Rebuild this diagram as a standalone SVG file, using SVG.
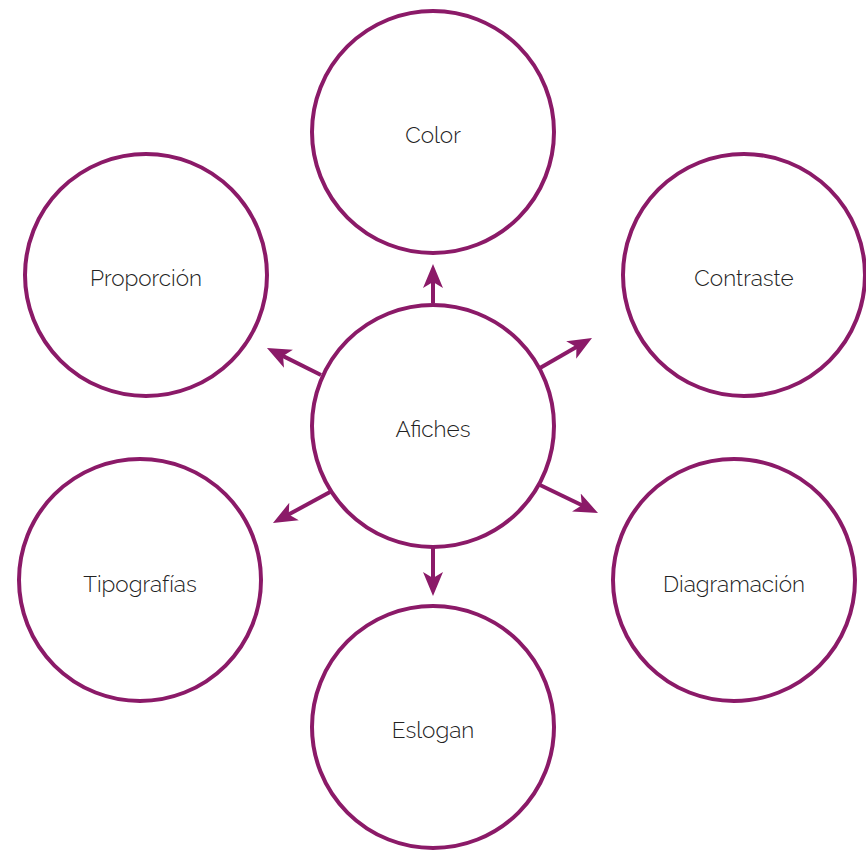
<svg xmlns="http://www.w3.org/2000/svg" width="866" height="850" viewBox="0 0 866 850">
  <style>
    .node circle { fill: #ffffff; stroke: #8b1a68; stroke-width: 4; }
    .node text { font-family: "Raleway", "Lato", "Open Sans", sans-serif; font-weight: 300; font-size: 22.5px; fill: #222222; text-anchor: middle; dominant-baseline: central; }
    .edges line { stroke: #8b1a68; stroke-width: 4; fill: none; }
  </style>
  <defs>
    <marker id="arrow" viewBox="-24 -11 26 22" refX="-12" refY="0" markerWidth="26" markerHeight="22" markerUnits="userSpaceOnUse" orient="auto">
      <path d="M0,0 L-24,-10 L-18,0 L-24,10 Z" fill="#8b1a68"/>
    </marker>
  </defs>
  <rect width="866" height="850" fill="#ffffff"/>

  <!-- spokes from the central topic; each arrow tip sits 12px past the line end -->
  <g class="edges">
    <line x1="433" y1="303" x2="433" y2="276" marker-end="url(#arrow)"/>
    <line x1="540" y1="368" x2="581.6" y2="344" marker-end="url(#arrow)"/>
    <line x1="321" y1="375" x2="277.7" y2="353.4" marker-end="url(#arrow)"/>
    <line x1="330" y1="492" x2="283.5" y2="517.3" marker-end="url(#arrow)"/>
    <line x1="540" y1="485" x2="587.2" y2="507.8" marker-end="url(#arrow)"/>
    <line x1="433" y1="548" x2="433" y2="584" marker-end="url(#arrow)"/>
  </g>

  <g id="afiches" class="node">
    <circle cx="433" cy="426" r="121"/>
    <text x="433" y="429">Afiches</text>
  </g>
  <g id="color" class="node">
    <circle cx="433" cy="132" r="121"/>
    <text x="433" y="135">Color</text>
  </g>
  <g id="proporcion" class="node">
    <circle cx="146" cy="275" r="121"/>
    <text x="146" y="278">Proporción</text>
  </g>
  <g id="contraste" class="node">
    <circle cx="744" cy="275" r="121"/>
    <text x="744" y="278">Contraste</text>
  </g>
  <g id="tipografias" class="node">
    <circle cx="140" cy="580" r="121"/>
    <text x="140" y="584">Tipografías</text>
  </g>
  <g id="diagramacion" class="node">
    <circle cx="734" cy="580" r="121"/>
    <text x="734" y="584">Diagramación</text>
  </g>
  <g id="eslogan" class="node">
    <circle cx="433" cy="727" r="121"/>
    <text x="433" y="730">Eslogan</text>
  </g>
</svg>
